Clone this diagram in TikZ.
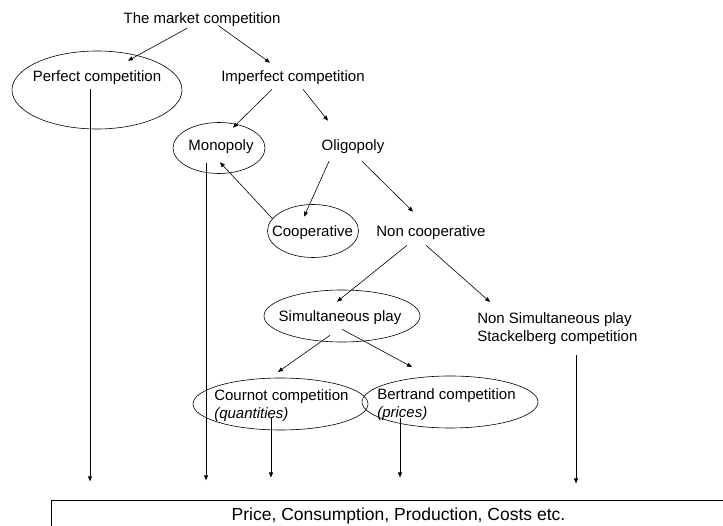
\documentclass[tikz,border=0pt]{standalone}
\usepackage{fontspec}
\setmainfont{Liberation Sans}
\usetikzlibrary{shapes.geometric,arrows.meta}

\begin{document}
\begin{tikzpicture}[x=1pt, y=-1pt, >={Triangle[length=5pt,width=4pt]}, line width=0.6pt,
    txt/.style={inner sep=0pt, text height=11pt, text depth=3pt, font=\fontsize{15}{18}\selectfont},
    twoline/.style={inner sep=0pt, align=left, anchor=north west, font=\fontsize{15}{18}\selectfont},
    oval/.style={draw, ellipse, inner sep=0pt}]
    \useasboundingbox (0,0) rectangle (723,526);

    % Ellipses (drawn on their own)
    \node[oval, minimum width=170pt, minimum height=78pt] (perfectel) at (97,90) {};
    \node[oval, minimum width=92pt, minimum height=51pt] (monoel) at (219,148) {};
    \node[oval, minimum width=91pt, minimum height=53pt] (coopel) at (313,231) {};
    \node[oval, minimum width=156pt, minimum height=52pt] (simel) at (342,316) {};
    \node[oval, minimum width=175pt, minimum height=52pt] (cournotel) at (280.5,404) {};
    \node[oval, minimum width=176pt, minimum height=52pt] (bertrandel) at (450,402) {};

    % Texts
    \node[txt] (market) at (202,20) {The market competition};
    \node[txt] (perfect) at (97,78) {Perfect competition};
    \node[txt] (imperfect) at (293,78) {Imperfect competition};
    \node[txt] (monopoly) at (221,147) {Monopoly};
    \node[txt] (oligopoly) at (353,147) {Oligopoly};
    \node[txt] (cooperative) at (312.5,233) {Cooperative};
    \node[txt] (noncoop) at (431,233) {Non cooperative};
    \node[txt] (simult) at (340,318) {Simultaneous play};
    \node[twoline] (nonsim) at (477,312.5) {Non Simultaneous play\\Stackelberg competition};
    \node[twoline] (cournot) at (214,389.5) {Cournot competition\\\textit{(quantities)}};
    \node[twoline] (bertrand) at (377,388.5) {Bertrand competition\\\textit{(prices)}};

    % Bottom box
    \node[draw, inner sep=0pt, text height=12pt, text depth=4pt, minimum width=695pt, minimum height=32.6pt,
          font=\fontsize{17.5}{21}\selectfont] (result) at (398.5,516.8) {Price, Consumption, Production, Costs etc.};

    % Arrows between levels
    \draw[->] ([shift={(-15pt,-1pt)}]market.south) -- ([shift={(31pt,10pt)}]perfect.north);
    \draw[->] ([shift={(16pt,2pt)}]market.south) -- ([shift={(-23pt,8pt)}]imperfect.north);
    \draw[->] ([shift={(-21pt,-4pt)}]imperfect.south) -- ([shift={(12pt,12pt)}]monopoly.north);
    \draw[->] ([shift={(10pt,-4pt)}]imperfect.south) -- ([shift={(-25pt,19pt)}]oligopoly.north);
    \draw[->] (coopel.163) -- ([shift={(-1pt,-8pt)}]monopoly.south);
    \draw[->] ([shift={(-24pt,-7pt)}]oligopoly.south) -- ([shift={(-8.5pt,9pt)}]cooperative.north);
    \draw[->] ([shift={(9pt,-7pt)}]oligopoly.south) -- ([shift={(-18pt,14pt)}]noncoop.north);
    \draw[->] ([shift={(-24pt,-5pt)}]noncoop.south) -- ([shift={(-3pt,9pt)}]simult.north);
    \draw[->] ([shift={(-5pt,-5pt)}]noncoop.south) -- ([shift={(13pt,10.5pt)}]nonsim.north west);
    \draw[->] ([shift={(-10pt,-10pt)}]simult.south) -- ([shift={(64pt,17.5pt)}]cournot.north west);
    \draw[->] ([shift={(2pt,-4pt)}]simult.south) -- ([shift={(35pt,21.5pt)}]bertrand.north west);

    % Arrows down to the outcome
    \draw[->] ([shift={(-7pt,-4pt)}]perfect.south) -- +(0,392);
    \draw[->] ([shift={(-15pt,-9pt)}]monopoly.south) -- +(0,317);
    \draw[->] ([shift={(57pt,3.6pt)}]cournot.south west) -- +(0,59);
    \draw[->] ([shift={(23pt,2.6pt)}]bertrand.south west) -- +(0,59);
    \draw[->] ([shift={(99pt,-10.4pt)}]nonsim.south west) -- +(0,128);
\end{tikzpicture}
\end{document}
